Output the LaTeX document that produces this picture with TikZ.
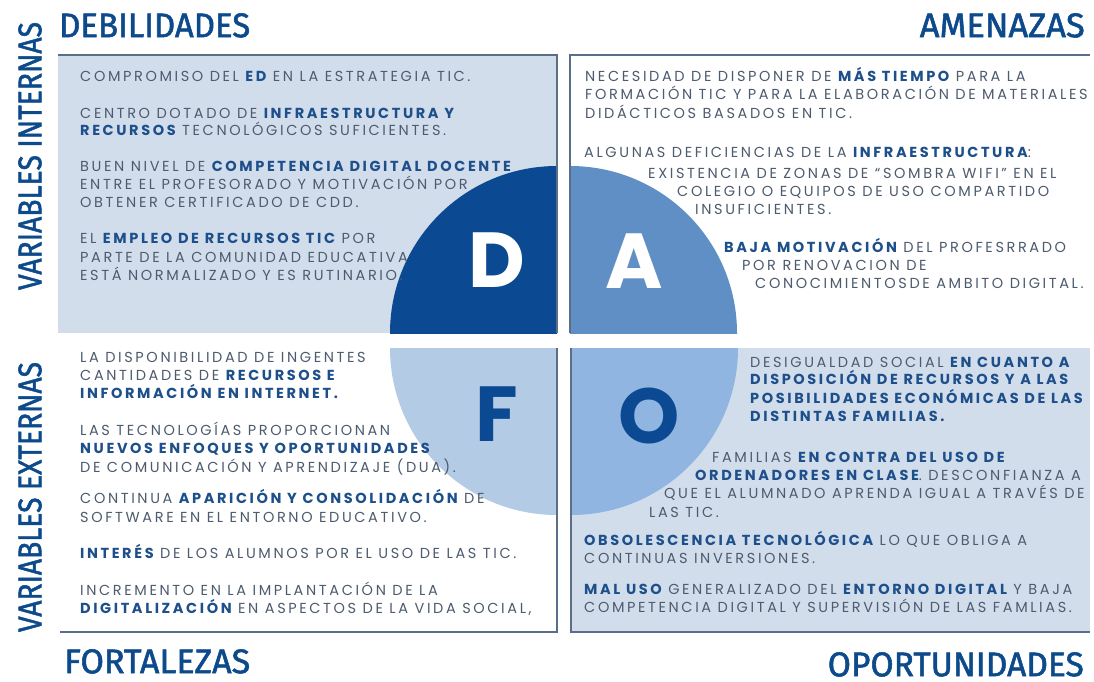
\documentclass[tikz,border=0pt]{standalone}
\usepackage{fontspec}
\usepackage{graphicx}
\newfontfamily\bodyfont{Poppins}[LetterSpace=18]
\newfontfamily\titlefont{Fira Sans}[FakeBold=1.6]
\newfontfamily\letterfont{Poppins}
\definecolor{dcol}{HTML}{0B4A92}
\definecolor{acol}{HTML}{5F8FC4}
\definecolor{fcol}{HTML}{B4CBE5}
\definecolor{ocol}{HTML}{8FB5E0}
\definecolor{boxcol}{HTML}{D2DDEC}
\definecolor{linecol}{HTML}{5A6E88}
\definecolor{tcol}{HTML}{4D5B6E}
\definecolor{bcol}{HTML}{1D4F8A}
\definecolor{titcol}{HTML}{0D4A8C}
\newcommand{\hb}[1]{{\bfseries\color{bcol}#1}}
\tikzset{
  txt/.style={anchor=base west, inner sep=0pt, text=tcol, font=\bodyfont\fontsize{14.5}{16}\selectfont},
  title/.style={inner sep=0pt, text=titcol},
  bigl/.style={inner sep=0pt, font=\letterfont\bfseries\fontsize{78}{78}\selectfont},
  border/.style={draw=linecol, line width=1.3pt}
}
\begin{document}
\begin{tikzpicture}[x=1pt,y=-1pt]
\useasboundingbox (0,0) rectangle (1094,681);
\fill[white] (0,0) rectangle (1094,681);
% boxes
\fill[boxcol] (58,55) rectangle (557,333);
\fill[boxcol] (571,348) rectangle (1090,632);
% quarter circles
\begin{scope}
\clip (58,55) rectangle (557,333);
\fill[dcol] (557,333) circle[radius=167];
\end{scope}
\begin{scope}
\clip (570,55) rectangle (1090,333);
\fill[acol] (570,333) circle[radius=167];
\end{scope}
\begin{scope}
\clip (58,348) rectangle (557,632);
\fill[fcol] (557,348) circle[radius=167];
\end{scope}
\begin{scope}
\clip (571,348) rectangle (1090,632);
\fill[ocol] (571,348) circle[radius=167];
\end{scope}
% borders
\draw[border] (58,55) -- (557,55) -- (557,333);
\draw[border] (570,333) -- (570,55) -- (1090,55);
\draw[border] (557,348) -- (557,632) -- (60,632);
\draw[border] (571,348) -- (571,632) -- (1090,632);
% titles
\node[title, anchor=north west] (deb) at (59,13) {\resizebox{191pt}{24pt}{\titlefont DEBILIDADES}};
\node[title, anchor=north east] (ame) at (1085,13) {\resizebox{165pt}{24pt}{\titlefont AMENAZAS}};
\node[title, anchor=north west] (fort) at (64,649) {\resizebox{186pt}{24pt}{\titlefont FORTALEZAS}};
\node[title, anchor=north east] (opo) at (1084,652) {\resizebox{256pt}{24pt}{\titlefont OPORTUNIDADES}};
\node[title, rotate=90] (vint) at (30,156) {\resizebox{268pt}{23pt}{\titlefont VARIABLES INTERNAS}};
\node[title, rotate=90] (vext) at (30,497) {\resizebox{270pt}{23pt}{\titlefont VARIABLES EXTERNAS}};
% big letters
\node[bigl, text=white] (lD) at (497,260) {D};
\node[bigl, text=white] (lA) at (634,261) {A};
\node[bigl, text=dcol] (lF) at (497,414) {F};
\node[bigl, text=dcol] (lO) at (649,416) {O};
% top-left text
\node[txt] (tl1) at (80,81) {COMPROMISO DEL \hb{ED} EN LA ESTRATEGIA TIC.};
\node[txt] (tl2) at (80,118) {CENTRO DOTADO DE \hb{INFRAESTRUCTURA Y}};
\node[txt] (tl3) at (80,135) {\hb{RECURSOS} TECNOLÓGICOS SUFICIENTES.};
\node[txt] (tl4) at (80,171) {BUEN NIVEL DE \hb{COMPETENCIA DIGITAL DOCENTE}};
\node[txt] (tl5) at (80,189) {ENTRE EL PROFESORADO Y MOTIVACIÓN POR};
\node[txt] (tl6) at (80,207) {OBTENER CERTIFICADO DE CDD.};
\node[txt] (tl7) at (80,243) {EL \hb{EMPLEO DE RECURSOS TIC} POR};
\node[txt] (tl8) at (80,262) {PARTE DE LA COMUNIDAD EDUCATIVA};
\node[txt] (tl9) at (80,280) {ESTÁ NORMALIZADO Y ES RUTINARIO.};
% top-right text
\node[txt] (tr1) at (585,81) {NECESIDAD DE DISPONER DE \hb{MÁS TIEMPO} PARA LA};
\node[txt] (tr2) at (585,99) {FORMACIÓN TIC Y PARA LA ELABORACIÓN DE MATERIALES};
\node[txt] (tr3) at (585,118) {DIDÁCTICOS BASADOS EN TIC.};
\node[txt] (tr4) at (584,157) {ALGUNAS DEFICIENCIAS DE LA \hb{INFRAESTRUCTURA}:};
\node[txt] (tr5) at (648,178) {EXISTENCIA DE ZONAS DE “SOMBRA WIFI” EN EL};
\node[txt] (tr6) at (677,196) {COLEGIO O EQUIPOS DE USO COMPARTIDO};
\node[txt] (tr7) at (695,214) {INSUFICIENTES.};
\node[txt] (tr8) at (724,252) {\hb{BAJA MOTIVACIÓN} DEL PROFESRRADO};
\node[txt] (tr9) at (742,270) {POR RENOVACION DE};
\node[txt] (tr10) at (755,288) {CONOCIMIENTOSDE AMBITO DIGITAL.};
% bottom-left text
\node[txt] (bl1) at (80,362) {LA DISPONIBILIDAD DE INGENTES};
\node[txt] (bl2) at (80,380) {CANTIDADES DE \hb{RECURSOS E}};
\node[txt] (bl3) at (80,398) {\hb{INFORMACIÓN EN INTERNET.}};
\node[txt] (bl4) at (80,435) {LAS TECNOLOGÍAS PROPORCIONAN};
\node[txt] (bl5) at (80,453) {\hb{NUEVOS ENFOQUES Y OPORTUNIDADES}};
\node[txt] (bl6) at (80,472) {DE COMUNICACIÓN Y APRENDIZAJE (DUA).};
\node[txt] (bl7) at (80,503) {CONTINUA \hb{APARICIÓN Y CONSOLIDACIÓN} DE};
\node[txt] (bl8) at (80,522) {SOFTWARE EN EL ENTORNO EDUCATIVO.};
\node[txt] (bl9) at (80,558) {\hb{INTERÉS} DE LOS ALUMNOS POR EL USO DE LAS TIC.};
\node[txt] (bl10) at (80,595) {INCREMENTO EN LA IMPLANTACIÓN DE LA};
\node[txt] (bl11) at (80,613) {\hb{DIGITALIZACIÓN} EN ASPECTOS DE LA VIDA SOCIAL,};
% bottom-right text
\node[txt] (br1) at (750,367) {DESIGUALDAD SOCIAL \hb{EN CUANTO A}};
\node[txt] (br2) at (750,384) {\hb{DISPOSICIÓN DE RECURSOS Y A LAS}};
\node[txt] (br3) at (750,403) {\hb{POSIBILIDADES ECONÓMICAS DE LAS}};
\node[txt] (br4) at (750,421) {\hb{DISTINTAS FAMILIAS.}};
\node[txt] (br5) at (712,462) {FAMILIAS \hb{EN CONTRA DEL USO DE}};
\node[txt] (br6) at (695,480) {\hb{ORDENADORES EN CLASE}. DESCONFIANZA A};
\node[txt] (br7) at (664,498) {QUE EL ALUMNADO APRENDA IGUAL A TRAVÉS DE};
\node[txt] (br8) at (649,517) {LAS TIC.};
\node[txt] (br9) at (584,545) {\hb{OBSOLESCENCIA TECNOLÓGICA} LO QUE OBLIGA A};
\node[txt] (br10) at (584,563) {CONTINUAS INVERSIONES.};
\node[txt] (br11) at (584,594) {\hb{MAL USO} GENERALIZADO DEL \hb{ENTORNO DIGITAL} Y BAJA};
\node[txt] (br12) at (584,612) {COMPETENCIA DIGITAL Y SUPERVISIÓN DE LAS FAMLIAS.};
\end{tikzpicture}
\end{document}
